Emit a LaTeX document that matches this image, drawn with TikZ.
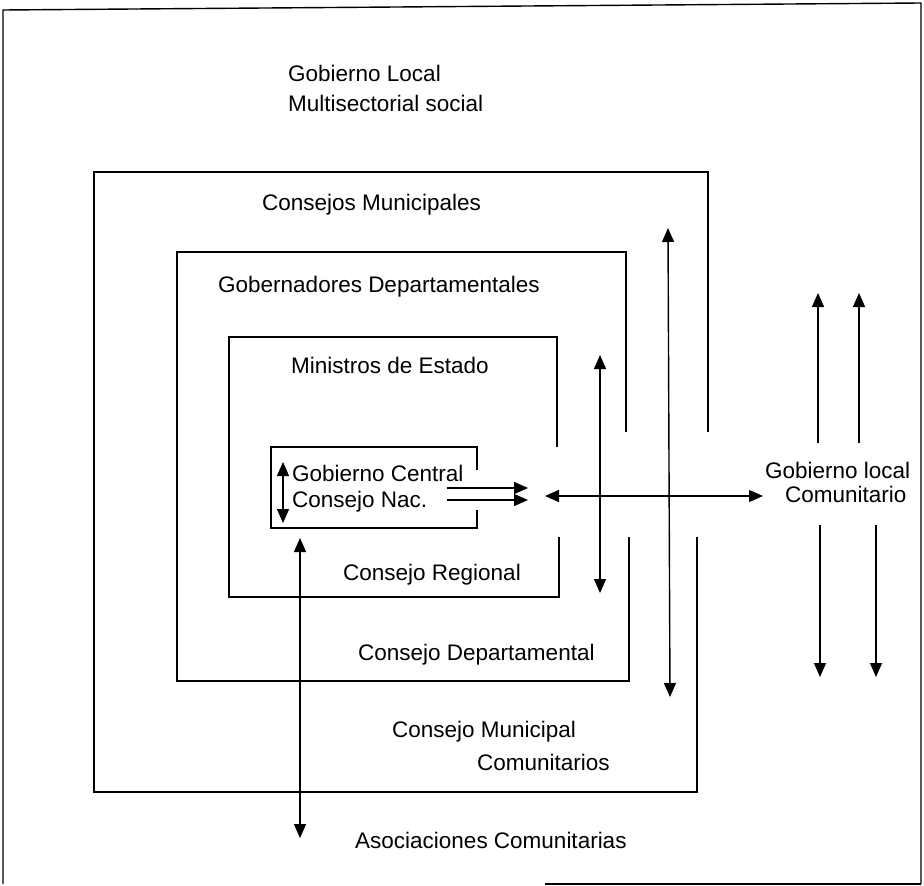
\documentclass[tikz,border=0pt]{standalone}
\usepackage{fontspec}
\setmainfont{Liberation Sans}
\usetikzlibrary{arrows.meta}
\begin{document}
\begin{tikzpicture}[x=1pt,y=-1pt,
  frame/.style={line width=1.4pt},
  lbl/.style={anchor=west,inner sep=0pt,font=\fontsize{22.5}{27}\selectfont},
  arr/.style={line width=1.4pt,-{Triangle[width=12pt,length=14pt]}},
  darr/.style={line width=1.4pt,{Triangle[width=12pt,length=14pt]}-{Triangle[width=12pt,length=14pt]}}]
\useasboundingbox (0,0) rectangle (924,886);
% outer frame
\draw[frame] (3,884) -- (3,10) -- (921,3) -- (921,884);
\draw[frame] (545,884) -- (921,884);
% box 1
\draw[frame] (708,432) -- (708,172) -- (94,172) -- (94,792) -- (697,792) -- (697,537);
% box 2
\draw[frame] (626,432) -- (626,252) -- (177,252) -- (177,681) -- (629,681) -- (629,537);
% box 3
\draw[frame] (557,447) -- (557,337) -- (229,337) -- (229,597) -- (559,597) -- (559,537);
% inner box
\draw[frame] (477,470) -- (477,447) -- (271,447) -- (271,528) -- (477,528) -- (477,510);
% labels
\node[lbl] (gl) at (288,73) {Gobierno Local};
\node[lbl] (ms) at (288,103) {Multisectorial social};
\node[lbl] (cm) at (262,205) {Consejos Municipales};
\node[lbl] (gd) at (218,287) {Gobernadores Departamentales};
\node[lbl] (me) at (291,365) {Ministros de Estado};
\node[lbl] (gc) at (292,473) {Gobierno Central};
\node[lbl] (cn) at (292,502) {Consejo Nac.};
\node[lbl] (cr) at (343,575) {Consejo Regional};
\node[lbl] (cd) at (358,655) {Consejo Departamental};
\node[lbl] (cmu) at (392,732) {Consejo Municipal};
\node[lbl] (cmc) at (477,762) {Comunitarios};
\node[lbl] (ac) at (355,840) {Asociaciones Comunitarias};
\node[lbl] (glc) at (765,470) {Gobierno local};
\node[lbl] (glc2) at (785,494) {Comunitario};
% connector endpoints
\coordinate (a1) at (283,462); \coordinate (a2) at (283,523);
\coordinate (b1) at (447,488); \coordinate (b2) at (528,488);
\coordinate (c1) at (447,500); \coordinate (c2) at (528,500);
\coordinate (d1) at (545,496); \coordinate (d2) at (763,496);
\coordinate (e1) at (300,538); \coordinate (e2) at (300,838);
\coordinate (f1) at (600,355); \coordinate (f2) at (600,593);
\coordinate (g1) at (668,228); \coordinate (g2) at (670,697);
\coordinate (h1) at (818,443); \coordinate (h2) at (818,293);
\coordinate (i1) at (859,443); \coordinate (i2) at (859,293);
\coordinate (j1) at (820,525); \coordinate (j2) at (820,677);
\coordinate (k1) at (876,525); \coordinate (k2) at (876,677);
% connectors
\draw[darr] (a1) -- (a2);
\draw[arr] (b1) -- (b2);
\draw[arr] (c1) -- (c2);
\draw[darr] (d1) -- (d2);
\draw[darr] (e1) -- (e2);
\draw[darr] (f1) -- (f2);
\draw[darr] (g1) -- (g2);
\draw[arr] (h1) -- (h2);
\draw[arr] (i1) -- (i2);
\draw[arr] (j1) -- (j2);
\draw[arr] (k1) -- (k2);
\end{tikzpicture}
\end{document}
